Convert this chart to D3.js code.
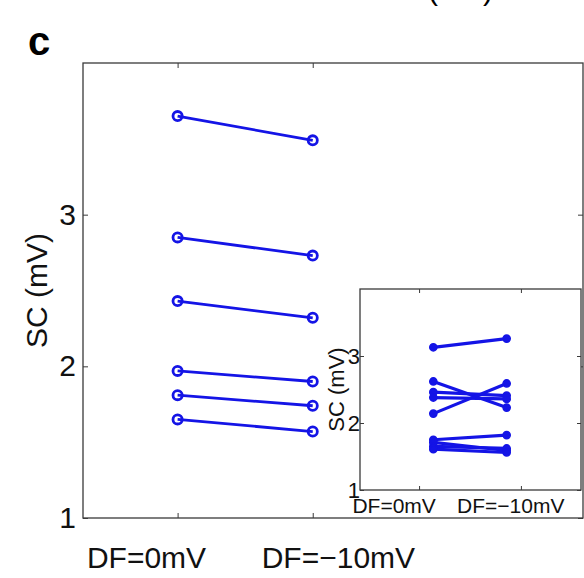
<!DOCTYPE html>
<html>
<head>
<meta charset="utf-8">
<script src="https://cdn.jsdelivr.net/npm/d3@7/dist/d3.min.js"></script>
<style>
  body { margin: 0; background: #fff; }
  svg { display: block; font-family: "Liberation Sans", Arial, sans-serif; }
</style>
</head>
<body>
<svg id="chart" width="584" height="578"></svg>
<script>
// main panel data: SC (mV) at the two conditions
const conditions = ['DF=0mV', 'DF=\u221210mV'];
const mainX = [1, 2];
const mainLabelX = [0.77, 2.19];
const mainLeft = [3.65, 2.85, 2.43, 1.97, 1.81, 1.65];
const mainRight = [3.49, 2.73, 2.32, 1.90, 1.74, 1.57];
const mainYTicks = [1, 2, 3];

// inset data
const insetX = [1.14, 1.86];
const insetLabelX = [0.755, 1.9];
const insetLeft = [3.13, 2.62, 2.46, 2.38, 2.14, 1.75, 1.71, 1.65, 1.61];
const insetRight = [3.26, 2.23, 2.41, 2.36, 2.59, 1.82, 1.59, 1.62, 1.56];
const insetYTicks = [1, 2, 3];

const blue = '#1414e6';
const frameColor = '#3a3a3a';
const svg = d3.select('#chart');

// panel letter and the cut-off title above
svg.append('text').attr('x', 28).attr('y', 55)
  .attr('font-size', 40).attr('font-weight', 'bold').text('c');
svg.append('text').attr('x', 428).attr('y', 0)
  .attr('font-size', 30).text('(mV)');

// ---- main plot
const m = { left: 83, right: 583, top: 63, bottom: 518 };
const x = d3.scaleLinear().domain([0.3, 4]).range([m.left, m.right]);
const y = d3.scaleLinear().domain([1, 4]).range([m.bottom, m.top]);

function styleAxis(g, size) {
  g.select('.domain').remove();
  g.selectAll('.tick line').attr('stroke', frameColor);
  g.selectAll('.tick text').attr('font-size', size).attr('fill', '#111')
    .attr('font-family', '"Liberation Sans", Arial, sans-serif');
}

svg.append('rect').attr('x', m.left).attr('y', m.top)
  .attr('width', m.right - m.left).attr('height', m.bottom - m.top)
  .attr('fill', 'none').attr('stroke', frameColor).attr('stroke-width', 1.3);

svg.append('g').attr('transform', `translate(${m.left},0)`)
  .call(d3.axisLeft(y).tickValues(mainYTicks).tickSize(-5).tickPadding(7).tickFormat(d3.format('d')))
  .call(g => styleAxis(g, 30));
svg.append('g').attr('transform', `translate(${m.right},0)`)
  .call(d3.axisRight(y).tickValues(mainYTicks).tickSize(-5).tickFormat(''))
  .call(g => styleAxis(g, 30));
svg.append('g').attr('transform', `translate(0,${m.bottom})`)
  .call(d3.axisBottom(x).tickValues(mainX).tickSize(-5).tickFormat(''))
  .call(g => styleAxis(g, 30));
svg.append('g').attr('transform', `translate(0,${m.top})`)
  .call(d3.axisTop(x).tickValues(mainX).tickSize(-5).tickFormat(''))
  .call(g => styleAxis(g, 30));

svg.append('g').selectAll('text').data(conditions).join('text')
  .attr('x', (d, i) => x(mainLabelX[i])).attr('y', 568)
  .attr('text-anchor', 'middle').attr('font-size', 30).attr('fill', '#111')
  .text(d => d);

svg.append('text')
  .attr('transform', `translate(47,${(m.top + m.bottom) / 2}) rotate(-90)`)
  .attr('text-anchor', 'middle').attr('font-size', 30).attr('fill', '#111')
  .text('SC (mV)');

const mainPairs = mainLeft.map((v, i) => [v, mainRight[i]]);
const mg = svg.append('g');
mg.selectAll('line').data(mainPairs).join('line')
  .attr('x1', x(mainX[0])).attr('x2', x(mainX[1]))
  .attr('y1', d => y(d[0])).attr('y2', d => y(d[1]))
  .attr('stroke', blue).attr('stroke-width', 2.8);
mainX.forEach((xv, k) => {
  mg.append('g').selectAll('circle').data(mainPairs).join('circle')
    .attr('cx', x(xv)).attr('cy', d => y(d[k])).attr('r', 4.6)
    .attr('fill', 'none').attr('stroke', blue).attr('stroke-width', 2.8);
});

// ---- inset
const n = { left: 360, right: 581, top: 289, bottom: 490 };
const xi = d3.scaleLinear().domain([0.42, 2.59]).range([n.left, n.right]);
const yi = d3.scaleLinear().domain([1, 4]).range([n.bottom, n.top]);

svg.append('rect').attr('x', n.left).attr('y', n.top)
  .attr('width', n.right - n.left).attr('height', n.bottom - n.top)
  .attr('fill', '#fff').attr('stroke', frameColor).attr('stroke-width', 1.3);

svg.append('g').attr('transform', `translate(${n.left},0)`)
  .call(d3.axisLeft(yi).tickValues(insetYTicks).tickSize(-4).tickPadding(0).tickFormat(d3.format('d')))
  .call(g => styleAxis(g, 22));
svg.append('g').attr('transform', `translate(${n.right},0)`)
  .call(d3.axisRight(yi).tickValues(insetYTicks).tickSize(-4).tickFormat(''))
  .call(g => styleAxis(g, 22));
svg.append('g').attr('transform', `translate(0,${n.bottom})`)
  .call(d3.axisBottom(xi).tickValues([1, 2]).tickSize(-4).tickFormat(''))
  .call(g => styleAxis(g, 22));
svg.append('g').attr('transform', `translate(0,${n.top})`)
  .call(d3.axisTop(xi).tickValues([1, 2]).tickSize(-4).tickFormat(''))
  .call(g => styleAxis(g, 22));

svg.append('g').selectAll('text').data(conditions).join('text')
  .attr('x', (d, i) => xi(insetLabelX[i])).attr('y', 513)
  .attr('text-anchor', 'middle').attr('font-size', 21).attr('fill', '#111')
  .text(d => d);

svg.append('text')
  .attr('transform', `translate(344,${(n.top + n.bottom) / 2}) rotate(-90)`)
  .attr('text-anchor', 'middle').attr('font-size', 22).attr('fill', '#111')
  .text('SC (mV)');

const insetPairs = insetLeft.map((v, i) => [v, insetRight[i]]);
const ig = svg.append('g');
ig.selectAll('line').data(insetPairs).join('line')
  .attr('x1', xi(insetX[0])).attr('x2', xi(insetX[1]))
  .attr('y1', d => yi(d[0])).attr('y2', d => yi(d[1]))
  .attr('stroke', blue).attr('stroke-width', 3.2);
insetX.forEach((xv, k) => {
  ig.append('g').selectAll('circle').data(insetPairs).join('circle')
    .attr('cx', xi(xv)).attr('cy', d => yi(d[k])).attr('r', 3.6)
    .attr('fill', blue).attr('stroke', blue).attr('stroke-width', 1.5);
});
</script>
</body>
</html>
